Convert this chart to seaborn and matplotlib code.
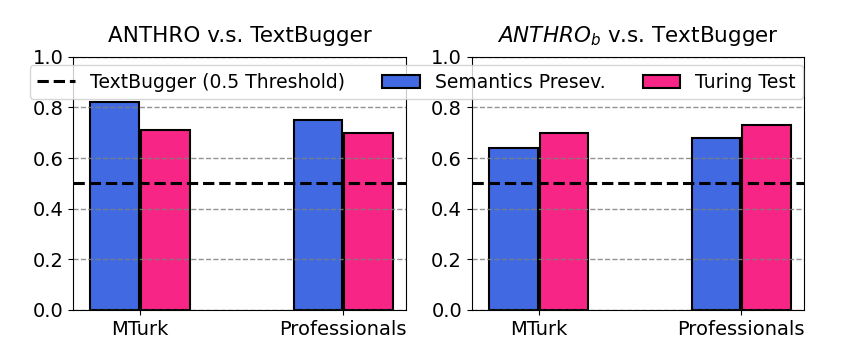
import pandas as pd
import seaborn as sns
import matplotlib.pyplot as plt
from matplotlib.lines import Line2D
from matplotlib.patches import Patch

groups = ['MTurk', 'Professionals']
metrics = ['Semantics Presev.', 'Turing Test']
anthro_sem = [0.82, 0.75]
anthro_tur = [0.71, 0.70]
anthrob_sem = [0.64, 0.68]
anthrob_tur = [0.70, 0.73]
threshold = 0.5
titles = ['ANTHRO v.s. TextBugger', r'$ANTHRO_b$ v.s. TextBugger']
colors = ['royalblue', '#F72585']


def make_df(sem, tur):
    rows = []
    for g, s, t in zip(groups, sem, tur):
        rows.append({'group': g, 'metric': metrics[0], 'score': s})
        rows.append({'group': g, 'metric': metrics[1], 'score': t})
    return pd.DataFrame(rows)


fig = plt.figure(figsize=(8.5, 3.62), dpi=100)
ax1 = fig.add_axes([0.086, 0.144, 0.392, 0.699])
ax2 = fig.add_axes([0.555, 0.144, 0.391, 0.699])

data = [make_df(anthro_sem, anthro_tur), make_df(anthrob_sem, anthrob_tur)]
for ax, df, title in zip([ax1, ax2], data, titles):
    sns.barplot(x='group', y='score', hue='metric', data=df, palette=colors,
                saturation=1, width=0.5, gap=0.04, edgecolor='black', linewidth=1.5,
                errorbar=None, ax=ax, legend=False)
    ax.axhline(threshold, color='black', linestyle='--', linewidth=2.2, zorder=3)
    # grid sits over the bars, like the original
    ax.yaxis.grid(True, linestyle='--', color='gray', alpha=0.85, linewidth=1.0)
    ax.set_ylim(0, 1.0)
    ax.set_xlim(-0.33, 1.31)
    ax.set_yticks([0.0, 0.2, 0.4, 0.6, 0.8, 1.0])
    ax.set_xlabel('')
    ax.set_ylabel('')
    ax.set_title(title, fontsize=15.5, pad=11)
    ax.tick_params(labelsize=14)

handles = [Line2D([0], [0], color='black', linestyle='--', linewidth=2.2),
           Patch(facecolor=colors[0], edgecolor='black', linewidth=1.5),
           Patch(facecolor=colors[1], edgecolor='black', linewidth=1.5)]
labels = ['TextBugger (0.5 Threshold)'] + metrics
fig.legend(handles, labels, loc='center', ncol=3, fontsize=13.5,
           bbox_to_anchor=(0.49, 0.773), framealpha=0.8, columnspacing=2.0)

plt.savefig('out.png', dpi=100)
